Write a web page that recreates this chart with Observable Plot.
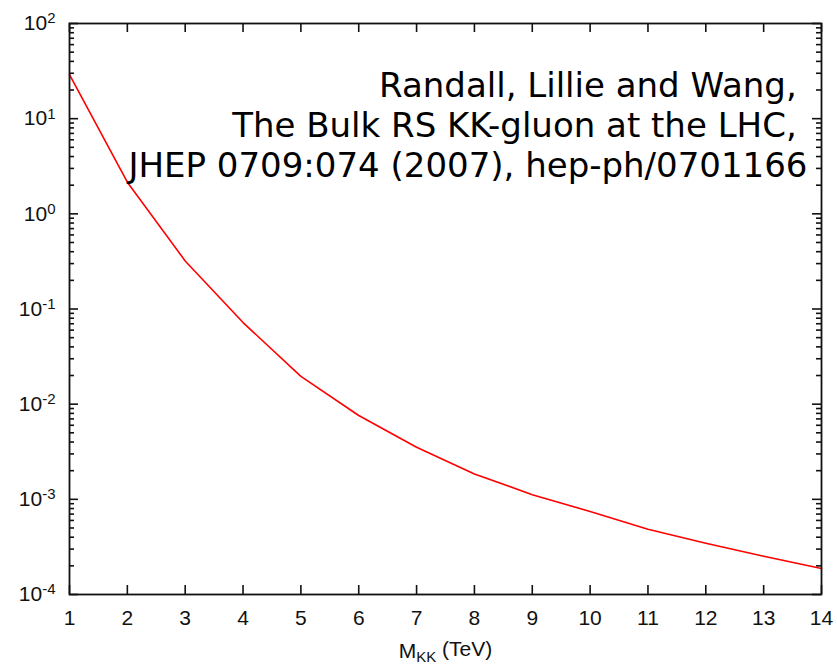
<!DOCTYPE html>
<html>
<head>
<meta charset="utf-8">
<script src="https://cdn.jsdelivr.net/npm/d3@7"></script>
<script src="https://cdn.jsdelivr.net/npm/@observablehq/plot@0.6"></script>
<style>
  html, body { margin: 0; padding: 0; background: #fff; }
  #chart svg { display: block; }
</style>
</head>
<body>
<div id="chart"></div>
<script>
// KK-gluon mass (TeV) and cross section
const mkk = [1, 2, 3, 4, 5, 6, 7, 8, 9, 10, 11, 12, 13, 14];
const sigma = [29.1, 2.15, 0.32, 0.072, 0.0196, 0.0076, 0.00353, 0.00185, 0.00112, 0.000745, 0.000484, 0.000345, 0.000252, 0.000188];

// Axis ticks
const xTicks = [1, 2, 3, 4, 5, 6, 7, 8, 9, 10, 11, 12, 13, 14];
const yMajor = [1e-4, 1e-3, 1e-2, 1e-1, 1e0, 1e1, 1e2];
const yMinor = [-4, -3, -2, -1, 0, 1].flatMap(k => [2, 3, 4, 5, 6, 7, 8, 9].map(m => m * Math.pow(10, k)));

const citation = "Randall, Lillie and Wang,\u00a0\nThe Bulk RS KK-gluon at the LHC,\u00a0\nJHEP 0709:074 (2007), hep-ph/0701166";
const xTitle = "M|KK| (TeV)";

const data = mkk.map((m, i) => ({m, s: sigma[i]}));

const W = 837, H = 664;
const mL = 69, mR = 16, mT = 23, mB = 70;
const pw = W - mL - mR, ph = H - mT - mB;
const major = 9, minor = 5;
const ink = "#111";
const tickStyle = {stroke: ink, strokeWidth: 1.6};

const svg = Plot.plot({
  width: W,
  height: H,
  marginLeft: mL,
  marginRight: mR,
  marginTop: mT,
  marginBottom: mB,
  style: {fontFamily: "'Liberation Sans', Arial, sans-serif", background: "#fff", color: ink},
  x: {type: "linear", domain: [1, 14]},
  y: {type: "log", domain: [1e-4, 1e2]},
  marks: [
    // inward tick marks on all four sides
    Plot.tickY(yMajor, {y: d => d, insetRight: pw - major, ...tickStyle}),
    Plot.tickY(yMajor, {y: d => d, insetLeft: pw - major, ...tickStyle}),
    Plot.tickY(yMinor, {y: d => d, insetRight: pw - minor, ...tickStyle}),
    Plot.tickY(yMinor, {y: d => d, insetLeft: pw - minor, ...tickStyle}),
    Plot.tickX(xTicks, {x: d => d, insetTop: ph - major, ...tickStyle}),
    Plot.tickX(xTicks, {x: d => d, insetBottom: ph - major, ...tickStyle}),
    Plot.axisX(xTicks, {anchor: "bottom", tickSize: 0, tickPadding: 16, fontSize: 21, tickFormat: d => String(d), label: null}),
    Plot.axisY(yMajor, {anchor: "left", tickSize: 0, tickPadding: 14, fontSize: 21, tickFormat: d => "10^" + Math.round(Math.log10(d)), label: null}),
    Plot.line(data, {x: "m", y: "s", stroke: "#ff0000", strokeWidth: 1.6}),
    Plot.frame({stroke: ink, strokeWidth: 1.8}),
    Plot.text([citation], {
      text: d => d, frameAnchor: "top-right", textAnchor: "end", lineAnchor: "top",
      dx: -14, dy: 45, lineHeight: 1.18, fontSize: 34,
      fontFamily: "'DejaVu Sans', sans-serif", fill: "#000"
    }),
    Plot.text([xTitle], {
      text: d => d, frameAnchor: "bottom", lineAnchor: "bottom", dy: 63,
      fontSize: 21, fill: ink
    })
  ]
});

// y tick labels: powers of ten with raised exponents
d3.select(svg).selectAll('g[aria-label="y-axis tick label"] text').each(function () {
  const [base, exp] = this.textContent.split("^");
  if (exp === undefined) return;
  const t = d3.select(this);
  t.text(base);
  t.append("tspan").attr("dy", "-0.45em").attr("font-size", 15).text(exp);
});

// x-axis title with subscript KK
d3.select(svg).selectAll("text").filter(function () { return this.textContent === xTitle; }).each(function () {
  const [a, sub, b] = this.textContent.split("|");
  const t = d3.select(this);
  t.text(a);
  t.append("tspan").attr("dy", "0.3em").attr("font-size", 15).text(sub);
  t.append("tspan").attr("dy", "-0.3em").text(b);
});

document.getElementById("chart").appendChild(svg);
</script>
</body>
</html>
